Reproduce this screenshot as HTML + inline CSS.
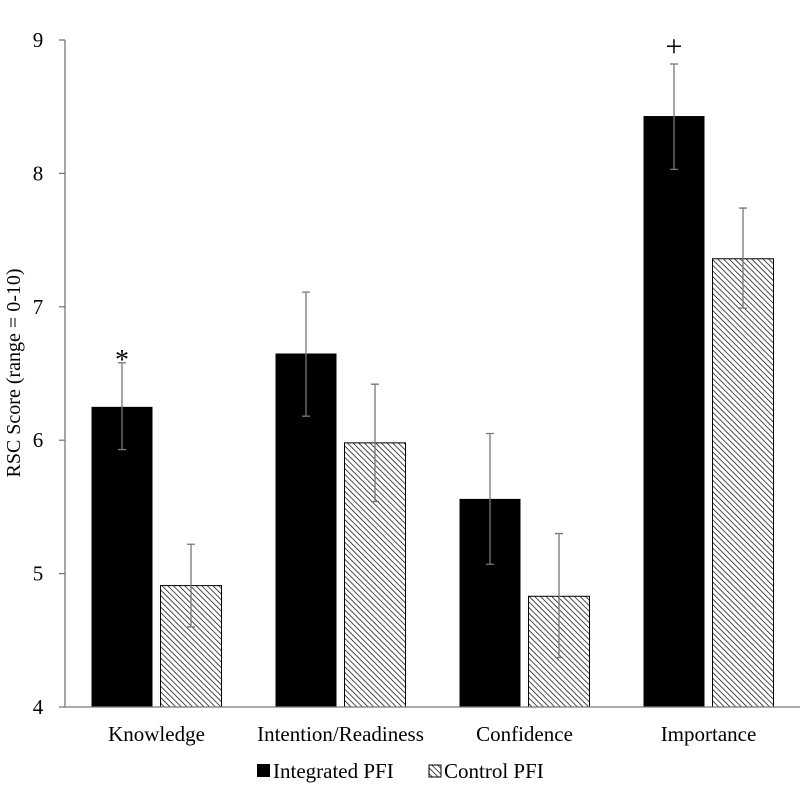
<!DOCTYPE html>
<html><head><meta charset="utf-8"><style>
body{margin:0;background:#fff}
svg{display:block;font-family:"Liberation Serif",serif}
</style></head><body>
<svg id="c" width="800" height="786" viewBox="0 0 800 786" xmlns="http://www.w3.org/2000/svg">
<defs><pattern id="hatch" patternUnits="userSpaceOnUse" width="4" height="4" patternTransform="rotate(-45)">
<rect width="4" height="4" fill="#fff"/><line x1="0" y1="0" x2="0" y2="4" stroke="#000" stroke-width="1.4"/></pattern></defs>
<text x="20" y="373" font-size="20" text-anchor="middle" transform="rotate(-90 20 373)">RSC Score (range = 0-10)</text>
<g id="bars"></g>
<line x1="65" y1="40" x2="65" y2="707" stroke="#777" stroke-width="1.3"/>
<line x1="65" y1="707" x2="800" y2="707" stroke="#777" stroke-width="1.3"/>
<g>
<rect x="257" y="764" width="13" height="13" fill="#000"/>
<text x="273" y="778" font-size="21">Integrated PFI</text>
<rect x="429" y="765" width="12" height="12" fill="url(#hatch)" stroke="#000"/>
<text x="444" y="778" font-size="21">Control PFI</text>
</g>
</svg>
<script>
const categories=["Knowledge","Intention/Readiness","Confidence","Importance"];
const integrated=[6.25,6.65,5.56,8.43];
const integratedLo=[5.93,6.18,5.07,8.03];
const integratedHi=[6.58,7.11,6.05,8.82];
const control=[4.91,5.98,4.83,7.36];
const controlLo=[4.60,5.54,4.37,6.99];
const controlHi=[5.22,6.42,5.30,7.74];
const marks=["*","","","+"];
const yTicks=[4,5,6,7,8,9];
const NS="http://www.w3.org/2000/svg";
const svg=document.getElementById('c'),g=document.getElementById('bars');
const y=v=>707-(v-4)*133.4;
const xc=i=>65+184*(i+0.5)-0.5;
function mk(t,a,p){const e=document.createElementNS(NS,t);for(const k in a)e.setAttribute(k,a[k]);(p||g).appendChild(e);return e;}
yTicks.forEach(t=>{
 const l=mk('line',{x1:59,x2:65,y1:y(t),y2:y(t),stroke:'#777','stroke-width':1.3},svg);
 
 
 const tx=mk('text',{x:38,y:y(t)+7,'font-size':21,'text-anchor':'middle'},svg);tx.textContent=t;
 
 
});
function err(x,lo,hi){
 const e=mk('path',{d:`M${x},${y(lo)}V${y(hi)}M${x-4},${y(lo)}h8M${x-4},${y(hi)}h8`,stroke:'#777','stroke-width':1.3,fill:'none'});
 
 
}
categories.forEach((c,i)=>{
 const cx=xc(i);
 const b1=mk('rect',{x:cx-65,y:y(integrated[i]),width:61,height:707-y(integrated[i]),fill:'#000'});
 
 
 const b2=mk('rect',{x:cx+4,y:y(control[i]),width:61,height:707-y(control[i]),fill:'url(#hatch)',stroke:'#000','stroke-width':1});
 
 
 err(cx-34.5,integratedLo[i],integratedHi[i]);
 err(cx+34.5,controlLo[i],controlHi[i]);
 const t=mk('text',{x:cx,y:741,'font-size':21,'text-anchor':'middle'},svg);t.textContent=c;
 
 
 if(marks[i]){
  const m=mk('text',{x:cx-34.5,y:y(integratedHi[i])-(marks[i]=='*'?-6:8),'font-size':marks[i]=='*'?28:30,'text-anchor':'middle'},svg);
  m.textContent=marks[i];
  
  
 }
});
</script>
</body></html>
